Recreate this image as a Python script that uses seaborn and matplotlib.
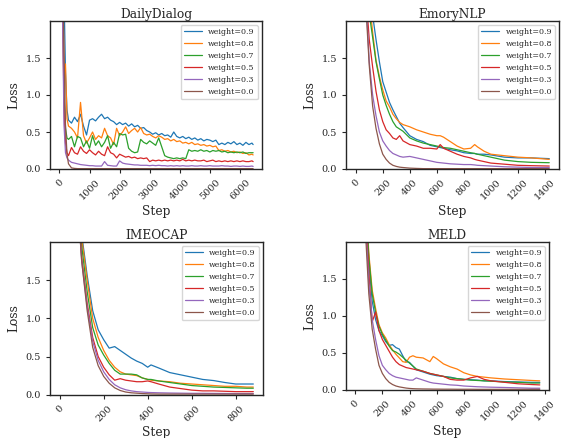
import matplotlib
matplotlib.use("Agg")
import matplotlib.pyplot as plt
import seaborn as sns

# ---------------- data ----------------
labels = ["weight=0.9", "weight=0.8", "weight=0.7", "weight=0.5", "weight=0.3", "weight=0.0"]

# DailyDialog
dd_steps = [0, 50, 100, 150, 200, 250] + list(range(300, 6401, 100)) + [6440]
dd_w09 = [8.0, 5.0, 3.5, 2.4, 1.3, 0.8,
          0.66, 0.62, 0.70, 0.64, 0.74, 0.58, 0.46, 0.66, 0.68, 0.65,
          0.70, 0.74, 0.68, 0.70, 0.66, 0.64, 0.60, 0.63, 0.60, 0.62,
          0.58, 0.61, 0.57, 0.59, 0.55, 0.56, 0.52, 0.50, 0.47, 0.49,
          0.46, 0.48, 0.45, 0.46, 0.43, 0.50, 0.44, 0.42, 0.44, 0.41,
          0.43, 0.40, 0.42, 0.39, 0.41, 0.38, 0.40, 0.39, 0.37, 0.39,
          0.33, 0.35, 0.33, 0.36, 0.34, 0.37, 0.33, 0.35, 0.32, 0.36,
          0.33, 0.35, 0.33]
dd_w08 = [8.0, 4.5, 2.8, 1.3, 1.42, 0.68,
          0.58, 0.55, 0.50, 0.42, 0.90, 0.45, 0.35, 0.42, 0.50, 0.40,
          0.45, 0.42, 0.55, 0.45, 0.42, 0.33, 0.55, 0.45, 0.50, 0.57,
          0.48, 0.52, 0.55, 0.50, 0.56, 0.48, 0.46, 0.47, 0.44, 0.42,
          0.45, 0.43, 0.40, 0.41, 0.38, 0.40, 0.37, 0.38, 0.35, 0.36,
          0.34, 0.36, 0.33, 0.34, 0.32, 0.33, 0.31, 0.32, 0.30, 0.31,
          0.25, 0.26, 0.24, 0.25, 0.23, 0.24, 0.22, 0.23, 0.21, 0.22,
          0.19, 0.20, 0.19]
dd_w07 = [8.0, 4.2, 2.6, 1.0, 0.55, 0.42,
          0.40, 0.44, 0.30, 0.44, 0.42, 0.30, 0.38, 0.28, 0.45, 0.32,
          0.38, 0.30, 0.36, 0.45, 0.28, 0.36, 0.30, 0.48, 0.46, 0.47,
          0.28, 0.24, 0.22, 0.23, 0.40, 0.36, 0.34, 0.38, 0.35, 0.32,
          0.42, 0.30, 0.18, 0.16, 0.15, 0.14, 0.15, 0.14, 0.15, 0.14,
          0.26, 0.24, 0.25, 0.24, 0.26, 0.24, 0.25, 0.23, 0.25, 0.24,
          0.25, 0.23, 0.24, 0.22, 0.23, 0.22, 0.23, 0.22, 0.23, 0.21,
          0.22, 0.22, 0.22]
dd_w05 = [8.0, 4.0, 2.4, 0.8, 0.35, 0.22,
          0.18, 0.29, 0.22, 0.20, 0.30, 0.24, 0.21, 0.26, 0.22, 0.19,
          0.24, 0.20, 0.18, 0.30, 0.22, 0.20, 0.15, 0.20, 0.18, 0.16,
          0.17, 0.15, 0.16, 0.14, 0.15, 0.14, 0.15, 0.10, 0.12, 0.11,
          0.12, 0.11, 0.12, 0.11, 0.12, 0.11, 0.12, 0.11, 0.13, 0.11,
          0.12, 0.11, 0.12, 0.11, 0.11, 0.12, 0.10, 0.11, 0.12, 0.10,
          0.11, 0.10, 0.11, 0.10, 0.11, 0.10, 0.11, 0.10, 0.11, 0.10,
          0.10, 0.11, 0.10]
dd_w03 = [8.0, 4.0, 2.2, 0.6, 0.22, 0.15,
          0.12, 0.09, 0.08, 0.07, 0.06, 0.055, 0.05, 0.045, 0.045, 0.04,
          0.04, 0.04, 0.10, 0.05, 0.045, 0.04, 0.04, 0.11, 0.08, 0.07,
          0.065, 0.06, 0.055, 0.055, 0.05, 0.05, 0.05, 0.045, 0.05, 0.045,
          0.05, 0.045, 0.045, 0.04, 0.045, 0.04, 0.045, 0.04, 0.045, 0.04,
          0.04, 0.045, 0.04, 0.04, 0.045, 0.04, 0.04, 0.045, 0.04, 0.04,
          0.04, 0.045, 0.04, 0.04, 0.035, 0.04, 0.04, 0.035, 0.04, 0.035,
          0.035, 0.04, 0.035]
dd_w00 = [8.0, 4.5, 3.0, 1.6, 0.6, 0.2,
          0.07, 0.015, 0.008] + [0.005] * 60

# EmoryNLP
em_steps = [0, 50, 100, 125, 150, 175, 200, 225, 250, 275, 300, 325, 350, 400, 450, 500,
            550, 600, 625, 650, 700, 750, 800, 850, 880, 900, 950, 1000, 1100, 1200, 1300, 1432]
em_w09 = [6.0, 4.0, 2.6, 2.08, 1.75, 1.45, 1.18, 1.04, 0.90, 0.80, 0.71, 0.62, 0.56, 0.45, 0.40, 0.37,
          0.32, 0.30, 0.29, 0.28, 0.26, 0.245, 0.22, 0.21, 0.21, 0.20, 0.20, 0.19, 0.16, 0.15, 0.15, 0.14]
em_w08 = [6.0, 3.8, 2.3, 1.85, 1.47, 1.25, 1.07, 0.92, 0.84, 0.74, 0.68, 0.63, 0.60, 0.57, 0.53, 0.50,
          0.47, 0.45, 0.45, 0.43, 0.37, 0.31, 0.27, 0.28, 0.33, 0.30, 0.24, 0.20, 0.18, 0.16, 0.15, 0.13]
em_w07 = [6.0, 3.6, 2.1, 1.78, 1.45, 1.22, 1.00, 0.86, 0.74, 0.64, 0.57, 0.54, 0.51, 0.42, 0.38, 0.35,
          0.33, 0.31, 0.30, 0.29, 0.28, 0.26, 0.24, 0.22, 0.21, 0.20, 0.18, 0.16, 0.12, 0.10, 0.09, 0.085]
em_w05 = [6.0, 3.0, 1.75, 1.38, 1.05, 0.80, 0.64, 0.53, 0.48, 0.42, 0.40, 0.45, 0.38, 0.33, 0.31, 0.28,
          0.28, 0.27, 0.33, 0.28, 0.24, 0.20, 0.17, 0.15, 0.13, 0.12, 0.10, 0.08, 0.065, 0.05, 0.045, 0.04]
em_w03 = [6.0, 3.2, 1.45, 1.0, 0.72, 0.50, 0.38, 0.31, 0.25, 0.21, 0.19, 0.17, 0.16, 0.17, 0.15, 0.13,
          0.11, 0.09, 0.085, 0.08, 0.07, 0.065, 0.06, 0.06, 0.055, 0.05, 0.045, 0.04, 0.03, 0.025, 0.02, 0.02]
em_w00 = [6.0, 3.0, 1.4, 0.85, 0.55, 0.34, 0.20, 0.13, 0.08, 0.05, 0.035, 0.025, 0.02, 0.012, 0.008, 0.005,
          0.005, 0.005, 0.005, 0.005, 0.005, 0.005, 0.005, 0.005, 0.005, 0.005, 0.005, 0.005, 0.005, 0.005, 0.005, 0.005]

# IMEOCAP
im_steps = [0, 50, 100, 125, 150, 175, 200, 225, 250, 275, 300, 325, 350, 375, 400, 415,
            450, 500, 550, 600, 650, 700, 750, 800, 850, 880]
im_w09 = [8.0, 4.5, 2.1, 1.56, 1.1, 0.85, 0.72, 0.61, 0.63, 0.58, 0.53, 0.48, 0.44, 0.41, 0.36, 0.39,
          0.35, 0.29, 0.26, 0.23, 0.20, 0.185, 0.16, 0.14, 0.14, 0.14]
im_w08 = [8.0, 4.4, 2.05, 1.5, 1.0, 0.75, 0.58, 0.45, 0.36, 0.30, 0.27, 0.26, 0.25, 0.22, 0.20, 0.19,
          0.18, 0.17, 0.15, 0.14, 0.13, 0.12, 0.11, 0.11, 0.10, 0.10]
im_w07 = [8.0, 4.2, 1.95, 1.35, 0.88, 0.65, 0.52, 0.41, 0.32, 0.27, 0.27, 0.27, 0.26, 0.22, 0.20, 0.20,
          0.18, 0.16, 0.14, 0.12, 0.11, 0.10, 0.095, 0.09, 0.085, 0.085]
im_w05 = [8.0, 4.0, 1.8, 1.2, 0.75, 0.50, 0.36, 0.26, 0.19, 0.21, 0.19, 0.18, 0.17, 0.17, 0.18, 0.17,
          0.14, 0.10, 0.08, 0.06, 0.05, 0.05, 0.045, 0.04, 0.04, 0.04]
im_w03 = [8.0, 3.9, 1.75, 1.15, 0.70, 0.45, 0.30, 0.20, 0.13, 0.09, 0.065, 0.05, 0.04, 0.035, 0.03, 0.028,
          0.025, 0.022, 0.02, 0.018, 0.018, 0.017, 0.016, 0.015, 0.015, 0.015]
im_w00 = [8.0, 3.9, 1.75, 1.1, 0.62, 0.38, 0.24, 0.15, 0.09, 0.055, 0.035, 0.025, 0.02, 0.015, 0.012, 0.01,
          0.008, 0.008, 0.008, 0.008, 0.008, 0.008, 0.008, 0.008, 0.008, 0.008]

# MELD
me_steps = [0, 50, 100, 125, 150, 175, 200, 225, 250, 275, 300, 325, 350, 375, 400, 425, 450,
            500, 550, 575, 600, 650, 700, 750, 800, 850, 900, 950, 1000, 1100, 1200, 1300, 1360]
me_w09 = [7.0, 3.6, 1.75, 1.2, 0.95, 0.80, 0.73, 0.65, 0.60, 0.61, 0.57, 0.55, 0.46, 0.38, 0.37, 0.32, 0.27,
          0.24, 0.21, 0.20, 0.19, 0.18, 0.17, 0.15, 0.14, 0.135, 0.13, 0.12, 0.12, 0.11, 0.105, 0.10, 0.10]
me_w08 = [7.0, 3.7, 1.85, 1.35, 1.10, 0.88, 0.77, 0.70, 0.61, 0.54, 0.48, 0.43, 0.38, 0.37, 0.44, 0.46, 0.44,
          0.43, 0.38, 0.45, 0.42, 0.35, 0.31, 0.28, 0.23, 0.20, 0.18, 0.17, 0.16, 0.145, 0.135, 0.125, 0.12]
me_w07 = [7.0, 3.6, 1.8, 1.3, 1.05, 0.86, 0.75, 0.67, 0.59, 0.53, 0.51, 0.48, 0.44, 0.40, 0.36, 0.32, 0.28,
          0.25, 0.22, 0.21, 0.20, 0.18, 0.16, 0.15, 0.14, 0.13, 0.125, 0.12, 0.115, 0.105, 0.10, 0.09, 0.09]
me_w05 = [7.0, 3.4, 1.6, 0.92, 1.05, 0.80, 0.68, 0.60, 0.52, 0.44, 0.38, 0.34, 0.32, 0.30, 0.29, 0.28, 0.27,
          0.25, 0.22, 0.21, 0.20, 0.18, 0.14, 0.13, 0.13, 0.16, 0.18, 0.14, 0.12, 0.10, 0.08, 0.07, 0.065]
me_w03 = [7.0, 3.2, 1.45, 0.95, 0.68, 0.46, 0.33, 0.27, 0.22, 0.19, 0.17, 0.16, 0.15, 0.14, 0.13, 0.13, 0.16,
          0.13, 0.10, 0.09, 0.085, 0.075, 0.065, 0.06, 0.05, 0.045, 0.04, 0.037, 0.034, 0.03, 0.025, 0.02, 0.02]
me_w00 = [7.0, 3.0, 1.3, 0.82, 0.55, 0.33, 0.22, 0.15, 0.10, 0.07, 0.05, 0.038, 0.03, 0.022, 0.017, 0.014, 0.012,
          0.01, 0.009, 0.008, 0.008, 0.007, 0.007, 0.006, 0.006, 0.006, 0.005, 0.005, 0.005, 0.005, 0.005, 0.005, 0.005]

# ---------------- plotting ----------------
sns.set_style("ticks")
plt.rcParams["font.family"] = "serif"
plt.rcParams["font.serif"] = ["DejaVu Serif"]
plt.rcParams["axes.linewidth"] = 1.0

colors = sns.color_palette("tab10", 6)

W, H = 561, 438
fig = plt.figure(figsize=(W / 100, H / 100), dpi=100)


def box(left, top, right, bottom):
    # pixel box -> figure fraction
    return [left / W, 1 - bottom / H, (right - left) / W, (bottom - top) / H]


panels = [
    ("DailyDialog", dd_steps, [dd_w09, dd_w08, dd_w07, dd_w05, dd_w03, dd_w00],
     box(50, 21, 262, 169), (-315, 6735), range(0, 6001, 1000)),
    ("EmoryNLP", em_steps, [em_w09, em_w08, em_w07, em_w05, em_w03, em_w00],
     box(346, 21, 559, 169), (-72, 1504), range(0, 1401, 200)),
    ("IMEOCAP", im_steps, [im_w09, im_w08, im_w07, im_w05, im_w03, im_w00],
     box(50, 242, 263, 394.7), (-44, 924), range(0, 801, 200)),
    ("MELD", me_steps, [me_w09, me_w08, me_w07, me_w05, me_w03, me_w00],
     box(346, 242, 549, 389.7), (-68, 1428), range(0, 1401, 200)),
]

for title, steps, series, pos, xlim, xticks in panels:
    ax = fig.add_axes(pos)
    for lab, vals, col in zip(labels, series, colors):
        sns.lineplot(x=steps, y=vals, ax=ax, color=col, lw=0.9, label=lab)
    ax.set_xlim(xlim)
    ax.set_ylim(0, 2.0)
    ax.set_yticks([0, 0.5, 1.0, 1.5])
    ax.set_xticks(list(xticks))
    ax.set_title(title, fontsize=8.8, pad=2)
    ax.set_xlabel("Step", fontsize=8.8, labelpad=2)
    ax.set_ylabel("Loss", fontsize=8.8)
    ax.tick_params(labelsize=7, length=3, width=0.8)
    for t in ax.get_xticklabels():
        t.set_rotation(45)
    ax.legend(loc="upper right", fontsize=5.7, handlelength=2.3, borderpad=0.4,
              labelspacing=0.5, handletextpad=0.8)

fig.savefig("out.png", dpi=100)
